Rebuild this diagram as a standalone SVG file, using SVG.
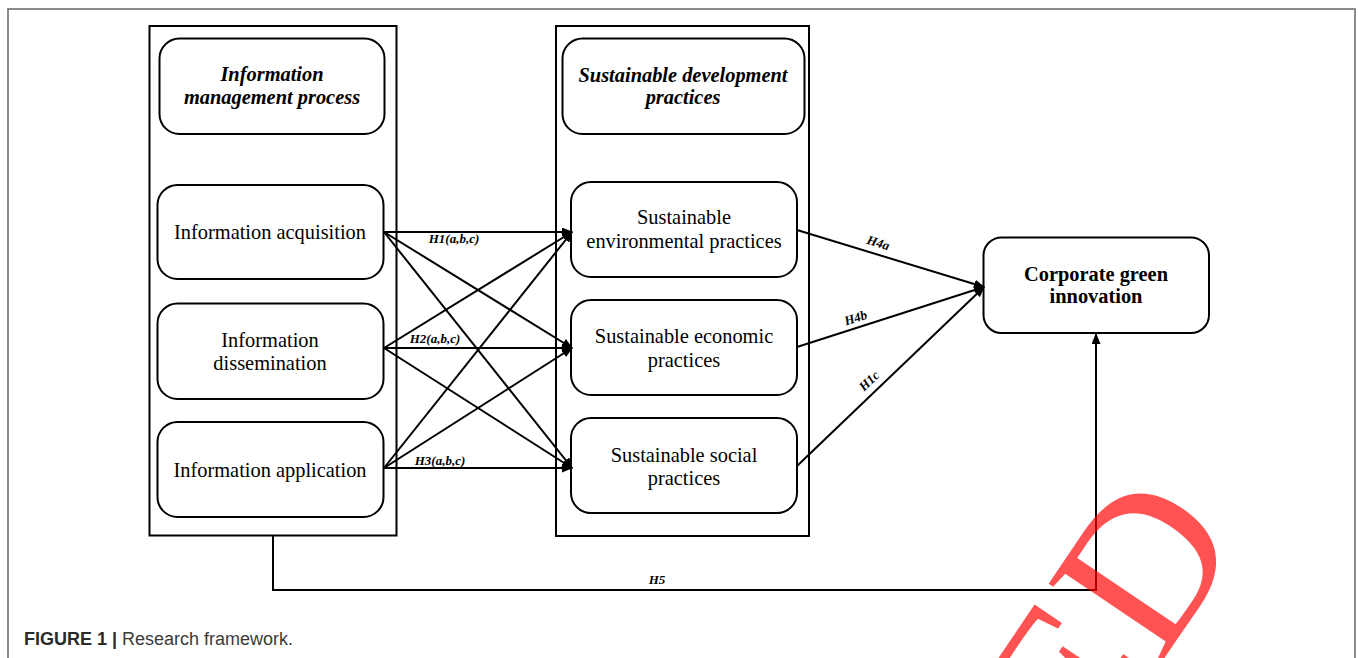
<svg xmlns="http://www.w3.org/2000/svg" width="1358" height="658" viewBox="0 0 1358 658">
<defs>
<style>
.frame{fill:none;stroke:#6e6e6e;stroke-width:1.6}
.cont{fill:none;stroke:#000;stroke-width:2}
.box{fill:#fff;stroke:#000;stroke-width:2}
.t{font-family:"Liberation Serif","Times New Roman",serif;font-size:20.4px;fill:#000;text-anchor:middle}
.bi{font-weight:bold;font-style:italic}
.b{font-weight:bold}
.lab{font-family:"Liberation Serif","Times New Roman",serif;font-size:13px;font-weight:bold;font-style:italic;fill:#000;text-anchor:middle}
.ln{fill:none;stroke:#000;stroke-width:2}
.cap{font-family:"Liberation Sans",Arial,sans-serif;font-size:18px;fill:#3a3a3a}
</style>
<marker id="ah" markerUnits="userSpaceOnUse" markerWidth="11" markerHeight="9" refX="10" refY="4.5" orient="auto">
<path d="M0,0 L11,4.5 L0,9 z" fill="#000"/>
</marker>
</defs>
<rect width="1358" height="658" fill="#fff"/>
<rect class="frame" x="8" y="9" width="1347" height="700"/>

<g id="imp-container"><rect class="cont" x="149.5" y="26" width="247" height="509.5"/></g>
<g id="sdp-container"><rect class="cont" x="556" y="26" width="253" height="510"/></g>

<g id="imp-title">
<rect class="box" x="159.5" y="38.5" width="225" height="95.5" rx="20"/>
<text class="t bi" x="272" y="81">Information</text>
<text class="t bi" x="272" y="104">management process</text>
</g>
<g id="info-acq">
<rect class="box" x="157.5" y="185" width="226" height="94" rx="20"/>
<text class="t" x="270" y="239">Information acquisition</text>
</g>
<g id="info-dis">
<rect class="box" x="157.5" y="303.5" width="226" height="95.5" rx="20"/>
<text class="t" x="270" y="347">Information</text>
<text class="t" x="270" y="370">dissemination</text>
</g>
<g id="info-app">
<rect class="box" x="157.5" y="422" width="226" height="95" rx="20"/>
<text class="t" x="270" y="477">Information application</text>
</g>

<g id="sdp-title">
<rect class="box" x="562.5" y="38.5" width="242" height="95.5" rx="20"/>
<text class="t bi" x="683" y="82">Sustainable development</text>
<text class="t bi" x="683" y="104">practices</text>
</g>
<g id="sus-env">
<rect class="box" x="571" y="182" width="226" height="95" rx="20"/>
<text class="t" x="684" y="224">Sustainable</text>
<text class="t" x="684" y="248">environmental practices</text>
</g>
<g id="sus-eco">
<rect class="box" x="571" y="300" width="226" height="95" rx="20"/>
<text class="t" x="684" y="343">Sustainable economic</text>
<text class="t" x="684" y="367">practices</text>
</g>
<g id="sus-soc">
<rect class="box" x="571" y="418" width="226" height="95" rx="20"/>
<text class="t" x="684" y="462">Sustainable social</text>
<text class="t" x="684" y="485">practices</text>
</g>

<g id="cgi">
<rect class="box" x="983.5" y="237.5" width="225.5" height="95.5" rx="18"/>
<text class="t b" x="1096" y="281">Corporate green</text>
<text class="t b" x="1096" y="303">innovation</text>
</g>

<g id="connectors">
<line class="ln" x1="384" y1="232" x2="572" y2="232" marker-end="url(#ah)"/>
<line class="ln" x1="384" y1="232" x2="572" y2="348" marker-end="url(#ah)"/>
<line class="ln" x1="384" y1="232" x2="572" y2="468" marker-end="url(#ah)"/>
<line class="ln" x1="384" y1="348" x2="572" y2="232" marker-end="url(#ah)"/>
<line class="ln" x1="384" y1="348" x2="572" y2="348" marker-end="url(#ah)"/>
<line class="ln" x1="384" y1="348" x2="572" y2="468" marker-end="url(#ah)"/>
<line class="ln" x1="384" y1="468" x2="572" y2="232" marker-end="url(#ah)"/>
<line class="ln" x1="384" y1="468" x2="572" y2="348" marker-end="url(#ah)"/>
<line class="ln" x1="384" y1="468" x2="572" y2="468" marker-end="url(#ah)"/>
<line class="ln" x1="797" y1="230" x2="984" y2="287" marker-end="url(#ah)"/>
<line class="ln" x1="797" y1="347" x2="984" y2="287" marker-end="url(#ah)"/>
<line class="ln" x1="797" y1="466" x2="984" y2="287" marker-end="url(#ah)"/>
<polyline class="ln" points="273,536 273,590 1096,590 1096,334" marker-end="url(#ah)"/>
<text class="lab" x="454" y="243">H1(a,b,c)</text>
<text class="lab" x="435" y="343">H2(a,b,c)</text>
<text class="lab" x="440" y="465">H3(a,b,c)</text>
<text class="lab" transform="translate(877,247) rotate(17)">H4a</text>
<text class="lab" transform="translate(857,322) rotate(-18)">H4b</text>
<text class="lab" transform="translate(872,384) rotate(-44)">H1c</text>
<text class="lab" x="657" y="584">H5</text>
</g>

<text class="cap" x="24" y="645"><tspan font-weight="bold" fill="#2a2a2a">FIGURE 1 | </tspan>Research framework.</text>

<text transform="translate(1244,540) rotate(-56)" font-family="'Liberation Serif','Times New Roman',serif" font-size="210" fill="#ff0000" fill-opacity="0.68" text-anchor="end">RETRACTED</text>
</svg>
